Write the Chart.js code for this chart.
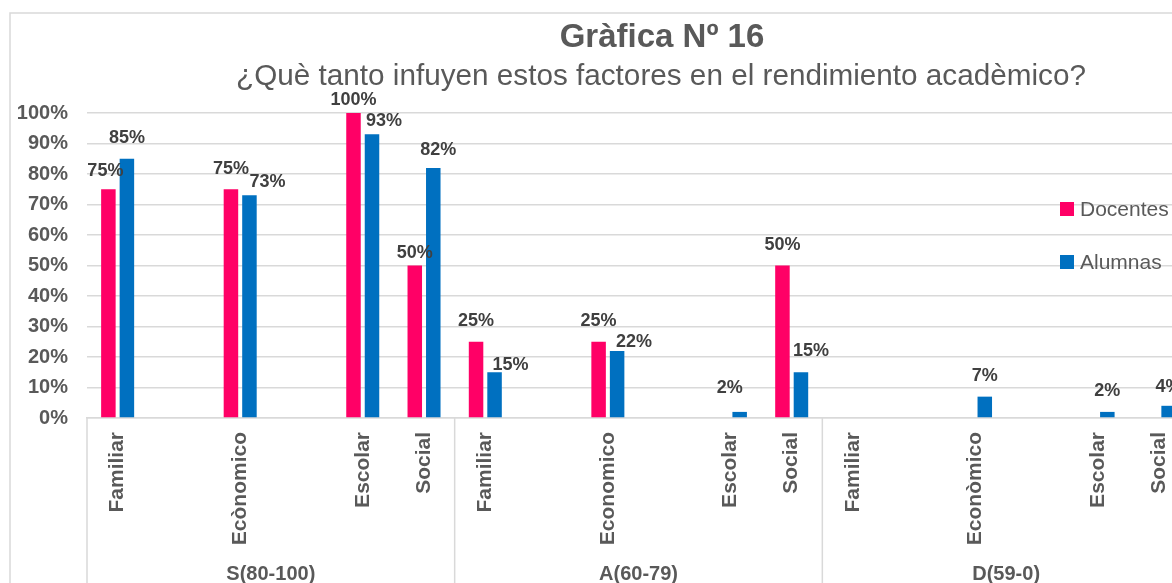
<!DOCTYPE html>
<html>
<head>
<meta charset="utf-8">
<script src="https://cdn.jsdelivr.net/npm/chart.js@4/dist/chart.umd.min.js"></script>
<style>
  html, body { margin: 0; padding: 0; background: #ffffff; overflow: hidden; width: 1172px; height: 583px; }
  #wrap { position: absolute; left: 0; top: 0; width: 1210px; height: 583px; }
</style>
</head>
<body>
<div id="wrap"><canvas id="c" width="1210" height="583"></canvas></div>
<script>
// ---- Data ----
const titleText = 'Gràfica Nº 16';
const subtitleText = '¿Què tanto infuyen estos factores en el rendimiento acadèmico?';
const groups = ['S(80-100)', 'A(60-79)', 'D(59-0)'];
const categories = ['Familiar', 'Ecònomico', 'Escolar', 'Social',
                    'Familiar', 'Economico', 'Escolar', 'Social',
                    'Familiar', 'Econòmico', 'Escolar', 'Social'];
const docentes = [75, 75, 100, 50, 25, 25, null, 50, null, null, null, null];
const alumnas  = [85, 73, 93, 82, 15, 22, 2, 15, null, 7, 2, 4];
const seriesNames = ['Docentes', 'Alumnas'];
const yTickValues = [0, 10, 20, 30, 40, 50, 60, 70, 80, 90, 100];

// blank category rows that follow each item in a group (as in the source sheet)
const blankAfter = [true, true, false, false];

// ---- build the category axis (with blank rows) ----
const slotLabels = [], slotDoc = [], slotAlu = [], slotCat = [];
categories.forEach((c, i) => {
  slotLabels.push(c); slotDoc.push(docentes[i]); slotAlu.push(alumnas[i]); slotCat.push(i);
  if (blankAfter[i % 4]) { slotLabels.push(''); slotDoc.push(null); slotAlu.push(null); slotCat.push(-1); }
});
const slotsPerGroup = slotLabels.length / groups.length;

// small manual label nudges (dx, gap above bar) as placed in the reference
const labelNudge = {
  '0:0': [-3, 13.5], '1:1': [18, 8.7], '0:2': [0, 8], '1:2': [12, 8], '0:3': [0, 7.6],
  '1:3': [5, 13], '1:4': [16, 2.6], '1:5': [17, 3.7], '1:6': [-10, 18.7], '1:7': [10, 16],
  '1:11': [0, 13.6]
};

const GRAY = '#595959';
const GRID = '#d9d9d9';
const FONT = '"Liberation Sans", Arial, sans-serif';

const framePlugin = {
  id: 'frame',
  beforeDraw(chart) {
    const ctx = chart.ctx;
    ctx.save();
    ctx.fillStyle = '#ffffff';
    ctx.fillRect(0, 0, chart.width, chart.height);
    ctx.strokeStyle = GRID;
    ctx.lineWidth = 1.5;
    ctx.beginPath();
    ctx.moveTo(10, chart.height);
    ctx.lineTo(10, 13);
    ctx.lineTo(chart.width, 13);
    ctx.stroke();
    ctx.restore();
  },
  afterDraw(chart) {
    const ctx = chart.ctx;
    const xs = chart.scales.x;
    const area = chart.chartArea;
    ctx.save();
    // titles
    ctx.fillStyle = GRAY;
    ctx.textAlign = 'center';
    ctx.textBaseline = 'alphabetic';
    ctx.font = 'bold 33px ' + FONT;
    ctx.fillText(titleText, 662, 47);
    ctx.font = '29.7px ' + FONT;
    ctx.fillText(subtitleText, 661, 85);

    // multi-level axis: group dividers and group labels
    const slotW = xs.getPixelForValue(1) - xs.getPixelForValue(0);
    ctx.strokeStyle = GRID;
    ctx.lineWidth = 1.5;
    for (let g = 0; g <= groups.length; g++) {
      const bx = xs.getPixelForValue(g * slotsPerGroup) - slotW / 2;
      ctx.beginPath();
      ctx.moveTo(bx, area.bottom);
      ctx.lineTo(bx, chart.height);
      ctx.stroke();
    }
    ctx.fillStyle = GRAY;
    ctx.font = 'bold 20px ' + FONT;
    groups.forEach((gname, g) => {
      const a = xs.getPixelForValue(g * slotsPerGroup) - slotW / 2;
      const b = xs.getPixelForValue((g + 1) * slotsPerGroup) - slotW / 2;
      ctx.fillText(gname, (a + b) / 2, 580);
    });

    // data labels
    ctx.fillStyle = '#404040';
    ctx.font = 'bold 18px ' + FONT;
    chart.data.datasets.forEach((ds, di) => {
      const meta = chart.getDatasetMeta(di);
      meta.data.forEach((el, si) => {
        const v = ds.data[si];
        if (v === null || v === undefined) return;
        const ci = slotCat[si];
        const nud = labelNudge[di + ':' + ci] || [0, 15.5];
        ctx.fillText(v + '%', el.x + nud[0], el.y - nud[1]);
      });
    });

    // legend (overlapping the plot, right side)
    ctx.textAlign = 'left';
    ctx.font = '21px ' + FONT;
    chart.data.datasets.forEach((ds, di) => {
      const y = 202 + di * 53;
      ctx.fillStyle = ds.backgroundColor;
      ctx.fillRect(1060, y, 14, 14);
      ctx.fillStyle = GRAY;
      ctx.fillText(ds.label, 1080, y + 14);
    });
    ctx.restore();
  }
};

new Chart(document.getElementById('c'), {
  type: 'bar',
  data: {
    labels: slotLabels,
    datasets: [
      { label: seriesNames[0], data: slotDoc, backgroundColor: '#FF0066',
        categoryPercentage: 0.604, barPercentage: 0.784 },
      { label: seriesNames[1], data: slotAlu, backgroundColor: '#0070C0',
        categoryPercentage: 0.604, barPercentage: 0.784 }
    ]
  },
  options: {
    responsive: false,
    animation: false,
    devicePixelRatio: 1,
    layout: { padding: { left: 0, right: 20, top: 113, bottom: 0 } },
    plugins: { legend: { display: false }, title: { display: false }, tooltip: { enabled: false } },
    scales: {
      x: {
        grid: { display: false, drawTicks: false },
        border: { display: true, color: GRID, width: 1.5 },
        ticks: {
          autoSkip: false, minRotation: 90, maxRotation: 90, padding: 14,
          color: GRAY, font: { family: FONT, size: 21, weight: 'bold' }
        },
        afterFit(scale) { scale.height = 165; }
      },
      y: {
        min: 0, max: 100,
        afterBuildTicks(scale) { scale.ticks = yTickValues.map(v => ({ value: v })); },
        grid: { color: GRID, lineWidth: 1.5, drawTicks: false },
        border: { display: false },
        ticks: {
          padding: 19, color: GRAY,
          font: { family: FONT, size: 20, weight: 'bold' },
          callback: v => v + '%'
        },
        afterFit(scale) { scale.width = 87; }
      }
    }
  },
  plugins: [framePlugin]
});
</script>
</body>
</html>
